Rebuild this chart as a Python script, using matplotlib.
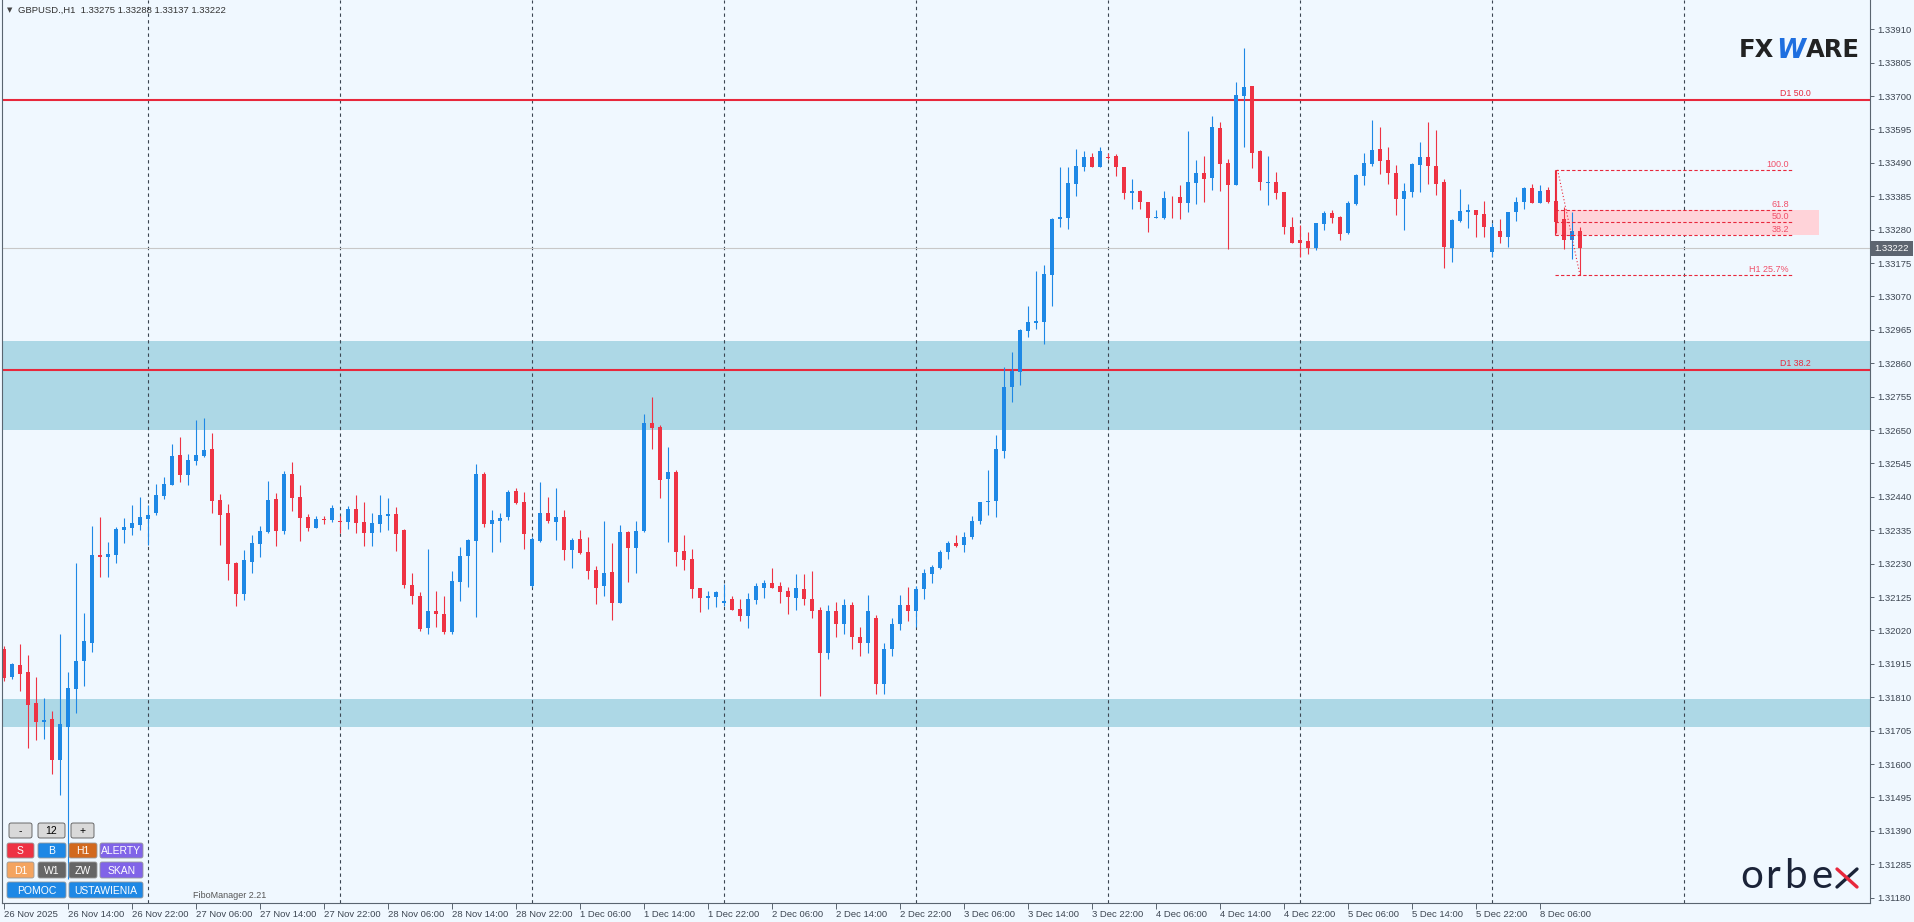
import matplotlib
matplotlib.use("Agg")
import matplotlib.pyplot as plt
from matplotlib.patches import Rectangle, FancyBboxPatch

plt.rcParams['font.family'] = ['Liberation Sans', 'DejaVu Sans']

# ---- data: GBPUSD H1 candles (26 Nov 06:00 .. 8 Dec 11:00) ----
opens = [
    1.31960, 1.31874, 1.31911, 1.31889, 1.31792, 1.31733, 1.31741, 1.31613, 1.31717, 1.31837,
    1.31925, 1.31981, 1.32257, 1.32252, 1.32258, 1.32336, 1.32343, 1.32352, 1.32370, 1.32390,
    1.32443, 1.32478, 1.32571, 1.32509, 1.32553, 1.32568, 1.32590, 1.32430, 1.32389, 1.32232,
    1.32135, 1.32236, 1.32292, 1.32329, 1.32433, 1.32332, 1.32511, 1.32439, 1.32376, 1.32343,
    1.32370, 1.32368, 1.32364, 1.32362, 1.32401, 1.32361, 1.32327, 1.32355, 1.32380, 1.32386,
    1.32335, 1.32163, 1.32128, 1.32028, 1.32081, 1.32071, 1.32016, 1.32173, 1.32254, 1.32302,
    1.32511, 1.32355, 1.32365, 1.32376, 1.32458, 1.32423, 1.32160, 1.32301, 1.32389, 1.32362,
    1.32376, 1.32274, 1.32307, 1.32266, 1.32210, 1.32160, 1.32203, 1.32107, 1.32329, 1.32280,
    1.32332, 1.32672, 1.32659, 1.32497, 1.32518, 1.32269, 1.32244, 1.32153, 1.32123, 1.32126,
    1.32107, 1.32119, 1.32088, 1.32066, 1.32116, 1.32154, 1.32169, 1.32159, 1.32144, 1.32123,
    1.32150, 1.32120, 1.32085, 1.31950, 1.32080, 1.32040, 1.32100, 1.32000, 1.31980, 1.32060,
    1.31850, 1.31960, 1.32040, 1.32100, 1.32080, 1.32150, 1.32196, 1.32215, 1.32265, 1.32296,
    1.32290, 1.32314, 1.32364, 1.32424, 1.32428, 1.32585, 1.32784, 1.32832, 1.32962, 1.32987,
    1.32990, 1.33136, 1.33312, 1.33318, 1.33424, 1.33477, 1.33508, 1.33476, 1.33509, 1.33512,
    1.33477, 1.33396, 1.33402, 1.33367, 1.33316, 1.33317, 1.33381, 1.33382, 1.33365, 1.33427,
    1.33459, 1.33441, 1.33600, 1.33490, 1.33421, 1.33701, 1.33732, 1.33527, 1.33427, 1.33430,
    1.33398, 1.33288, 1.33248, 1.33244, 1.33221, 1.33298, 1.33333, 1.33321, 1.33268, 1.33360,
    1.33450, 1.33487, 1.33534, 1.33499, 1.33459, 1.33377, 1.33399, 1.33484, 1.33509, 1.33480,
    1.33430, 1.33223, 1.33307, 1.33335, 1.33342, 1.33330, 1.33210, 1.33275, 1.33258, 1.33335,
    1.33368, 1.33410, 1.33365, 1.33405, 1.33370, 1.33314, 1.33248, 1.33275,
]
highs = [
    1.31971, 1.31918, 1.31977, 1.31942, 1.31874, 1.31807, 1.31766, 1.32008, 1.31889, 1.32232,
    1.32074, 1.32348, 1.32376, 1.32298, 1.32346, 1.32373, 1.32414, 1.32439, 1.32414, 1.32480,
    1.32502, 1.32606, 1.32628, 1.32574, 1.32681, 1.32687, 1.32640, 1.32449, 1.32417, 1.32235,
    1.32272, 1.32320, 1.32348, 1.32489, 1.32452, 1.32521, 1.32549, 1.32477, 1.32386, 1.32379,
    1.32379, 1.32414, 1.32379, 1.32411, 1.32445, 1.32423, 1.32389, 1.32445, 1.32437, 1.32408,
    1.32339, 1.32200, 1.32141, 1.32276, 1.32144, 1.32128, 1.32206, 1.32282, 1.32308, 1.32543,
    1.32518, 1.32398, 1.32389, 1.32461, 1.32467, 1.32455, 1.32314, 1.32486, 1.32439, 1.32467,
    1.32398, 1.32310, 1.32335, 1.32314, 1.32222, 1.32364, 1.32296, 1.32351, 1.32332, 1.32364,
    1.32700, 1.32754, 1.32665, 1.32596, 1.32524, 1.32320, 1.32276, 1.32153, 1.32145, 1.32145,
    1.32166, 1.32129, 1.32119, 1.32138, 1.32170, 1.32178, 1.32216, 1.32172, 1.32157, 1.32197,
    1.32198, 1.32207, 1.32095, 1.32100, 1.32110, 1.32120, 1.32110, 1.32030, 1.32130, 1.32070,
    1.31980, 1.32060, 1.32130, 1.32156, 1.32160, 1.32213, 1.32227, 1.32272, 1.32301, 1.32320,
    1.32330, 1.32380, 1.32424, 1.32525, 1.32635, 1.32847, 1.32895, 1.32969, 1.33040, 1.33150,
    1.33169, 1.33317, 1.33477, 1.33478, 1.33534, 1.33527, 1.33522, 1.33541, 1.33522, 1.33519,
    1.33477, 1.33440, 1.33405, 1.33367, 1.33342, 1.33402, 1.33387, 1.33420, 1.33590, 1.33499,
    1.33513, 1.33637, 1.33618, 1.33502, 1.33744, 1.33852, 1.33732, 1.33531, 1.33512, 1.33461,
    1.33398, 1.33321, 1.33295, 1.33273, 1.33302, 1.33338, 1.33342, 1.33324, 1.33369, 1.33455,
    1.33521, 1.33625, 1.33603, 1.33540, 1.33484, 1.33426, 1.33489, 1.33555, 1.33618, 1.33594,
    1.33438, 1.33314, 1.33408, 1.33360, 1.33342, 1.33370, 1.33302, 1.33313, 1.33337, 1.33384,
    1.33415, 1.33423, 1.33420, 1.33415, 1.33468, 1.33352, 1.33337, 1.33288,
]
lows = [
    1.31860, 1.31868, 1.31830, 1.31651, 1.31675, 1.31678, 1.31568, 1.31502, 1.31240, 1.31761,
    1.31846, 1.31953, 1.32189, 1.32189, 1.32232, 1.32295, 1.32320, 1.32335, 1.32289, 1.32384,
    1.32433, 1.32478, 1.32487, 1.32477, 1.32540, 1.32565, 1.32389, 1.32289, 1.32179, 1.32097,
    1.32116, 1.32200, 1.32252, 1.32326, 1.32286, 1.32324, 1.32396, 1.32302, 1.32333, 1.32343,
    1.32355, 1.32362, 1.32327, 1.32340, 1.32327, 1.32286, 1.32286, 1.32330, 1.32336, 1.32270,
    1.32154, 1.32104, 1.32019, 1.32009, 1.32032, 1.32009, 1.32009, 1.32113, 1.32157, 1.32063,
    1.32346, 1.32267, 1.32299, 1.32368, 1.32417, 1.32277, 1.32157, 1.32299, 1.32358, 1.32305,
    1.32242, 1.32217, 1.32261, 1.32182, 1.32104, 1.32129, 1.32053, 1.32107, 1.32173, 1.32201,
    1.32330, 1.32591, 1.32437, 1.32299, 1.32223, 1.32211, 1.32123, 1.32079, 1.32088, 1.32094,
    1.32097, 1.32085, 1.32050, 1.32028, 1.32104, 1.32123, 1.32154, 1.32107, 1.32072, 1.32085,
    1.32100, 1.32060, 1.31815, 1.31930, 1.32000, 1.32010, 1.31960, 1.31940, 1.31950, 1.31820,
    1.31820, 1.31940, 1.32020, 1.32050, 1.32030, 1.32120, 1.32170, 1.32213, 1.32243, 1.32282,
    1.32265, 1.32308, 1.32353, 1.32383, 1.32375, 1.32561, 1.32739, 1.32793, 1.32942, 1.32967,
    1.32919, 1.33040, 1.33289, 1.33283, 1.33386, 1.33464, 1.33476, 1.33476, 1.33501, 1.33450,
    1.33375, 1.33345, 1.33344, 1.33274, 1.33316, 1.33314, 1.33317, 1.33315, 1.33335, 1.33361,
    1.33367, 1.33405, 1.33402, 1.33218, 1.33421, 1.33540, 1.33475, 1.33405, 1.33358, 1.33377,
    1.33267, 1.33237, 1.33194, 1.33202, 1.33216, 1.33279, 1.33301, 1.33248, 1.33267, 1.33358,
    1.33421, 1.33480, 1.33455, 1.33423, 1.33325, 1.33279, 1.33382, 1.33399, 1.33424, 1.33390,
    1.33160, 1.33178, 1.33305, 1.33286, 1.33257, 1.33257, 1.33193, 1.33237, 1.33226, 1.33307,
    1.33345, 1.33363, 1.33363, 1.33365, 1.33270, 1.33220, 1.33189, 1.33137,
]
closes = [
    1.31871, 1.31914, 1.31884, 1.31786, 1.31733, 1.31738, 1.31613, 1.31725, 1.31839, 1.31923,
    1.31986, 1.32257, 1.32252, 1.32260, 1.32339, 1.32345, 1.32357, 1.32376, 1.32383, 1.32445,
    1.32480, 1.32568, 1.32508, 1.32555, 1.32571, 1.32587, 1.32428, 1.32384, 1.32230, 1.32135,
    1.32241, 1.32295, 1.32332, 1.32430, 1.32333, 1.32511, 1.32437, 1.32374, 1.32343, 1.32370,
    1.32367, 1.32405, 1.32361, 1.32401, 1.32358, 1.32327, 1.32357, 1.32383, 1.32386, 1.32324,
    1.32164, 1.32129, 1.32025, 1.32081, 1.32073, 1.32016, 1.32175, 1.32254, 1.32304, 1.32511,
    1.32355, 1.32367, 1.32373, 1.32455, 1.32420, 1.32324, 1.32307, 1.32389, 1.32365, 1.32376,
    1.32274, 1.32304, 1.32264, 1.32207, 1.32154, 1.32200, 1.32107, 1.32329, 1.32280, 1.32332,
    1.32672, 1.32657, 1.32494, 1.32518, 1.32267, 1.32242, 1.32151, 1.32123, 1.32129, 1.32142,
    1.32113, 1.32085, 1.32066, 1.32119, 1.32159, 1.32169, 1.32154, 1.32142, 1.32126, 1.32153,
    1.32120, 1.32080, 1.31950, 1.32080, 1.32040, 1.32100, 1.32000, 1.31980, 1.32080, 1.31850,
    1.31960, 1.32040, 1.32100, 1.32080, 1.32150, 1.32199, 1.32218, 1.32267, 1.32296, 1.32286,
    1.32314, 1.32364, 1.32424, 1.32427, 1.32591, 1.32785, 1.32836, 1.32965, 1.32990, 1.32993,
    1.33141, 1.33314, 1.33321, 1.33427, 1.33480, 1.33508, 1.33476, 1.33527, 1.33504, 1.33476,
    1.33396, 1.33402, 1.33366, 1.33318, 1.33320, 1.33380, 1.33378, 1.33365, 1.33430, 1.33459,
    1.33440, 1.33603, 1.33487, 1.33421, 1.33703, 1.33728, 1.33522, 1.33431, 1.33430, 1.33396,
    1.33287, 1.33237, 1.33239, 1.33221, 1.33301, 1.33333, 1.33318, 1.33267, 1.33363, 1.33452,
    1.33490, 1.33531, 1.33496, 1.33457, 1.33377, 1.33402, 1.33485, 1.33509, 1.33481, 1.33424,
    1.33225, 1.33311, 1.33339, 1.33342, 1.33327, 1.33287, 1.33288, 1.33257, 1.33336, 1.33368,
    1.33412, 1.33365, 1.33402, 1.33368, 1.33305, 1.33248, 1.33277, 1.33222,
]

time_labels = ['26 Nov 2025', '26 Nov 14:00', '26 Nov 22:00', '27 Nov 06:00', '27 Nov 14:00',
               '27 Nov 22:00', '28 Nov 06:00', '28 Nov 14:00', '28 Nov 22:00', '1 Dec 06:00',
               '1 Dec 14:00', '1 Dec 22:00', '2 Dec 06:00', '2 Dec 14:00', '2 Dec 22:00',
               '3 Dec 06:00', '3 Dec 14:00', '3 Dec 22:00', '4 Dec 06:00', '4 Dec 14:00',
               '4 Dec 22:00', '5 Dec 06:00', '5 Dec 14:00', '5 Dec 22:00', '8 Dec 06:00']

# support / resistance zones and daily fibo levels
zones = [(1.32649, 1.32930), (1.31717, 1.31805)]
d1_levels = [1.33688, 1.32838]
d1_names = ['D1 50.0', 'D1 38.2']

# H1 fibo swing (bar 194 high -> bar 197 low)
fib_high = 1.33468
fib_low = 1.33137
fib_ratios = [1.0, 0.618, 0.5, 0.382, 0.0]
fib_names = ['100.0', '61.8', '50.0', '38.2', 'H1 25.7%']

last_price = closes[-1]

BULL = '#1E88E5'
BEAR = '#EE3344'
BG = '#F0F8FF'
TXT = '#3d4652'

W, H = 1915, 922
fig = plt.figure(figsize=(W / 100, H / 100), dpi=100, facecolor=BG)
ax = fig.add_axes([2 / W, 19 / H, 1868 / W, 903 / H], facecolor=BG)

n = len(opens)
xs = list(range(n))

# zones, grid, levels
for lo, hi in zones:
    ax.axhspan(lo, hi, color='#ADD8E6', lw=0, zorder=0.5)
for g in range(18, 234, 24):
    ax.axvline(g, color='#3b4652', lw=0.8, ls=(0, (3, 3)), zorder=1)
for lvl, name in zip(d1_levels, d1_names):
    ax.axhline(lvl, color='#E8283C', lw=1.5, zorder=1.5)
    ax.text(225.9, lvl + 0.00007, name, ha='right', va='bottom', fontsize=6.3,
            color='#E8283C', zorder=3)
ax.axhline(last_price, color='#c8c8c8', lw=0.8, zorder=1.2)

# candles
for i in xs:
    o, h, l, c = opens[i], highs[i], lows[i], closes[i]
    col = BULL if c >= o else BEAR
    ax.vlines(i, l, h, color=col, lw=0.8, zorder=2)
    body = max(abs(c - o), 0.00003)
    ax.bar(i, body, bottom=min(o, c), width=0.62, color=col, lw=0, zorder=2.5)

# fibo tool
fx0, fx1, frect = 193.9, 223.5, 226.9
span = fib_high - fib_low
fib_prices = [fib_low + r * span for r in fib_ratios]
ax.add_patch(Rectangle((fx0, fib_prices[3]), frect - fx0, fib_prices[1] - fib_prices[3],
                       facecolor='#FFD3D9', edgecolor='none', zorder=1.8))
for p, name in zip(fib_prices, fib_names):
    ax.hlines(p, fx0, fx1, color='#E8283C', lw=0.8, ls=(0, (3, 2)), zorder=3)
    ax.text(fx1 - 0.4, p + 0.00004, name, ha='right', va='bottom', fontsize=6.5,
            color='#F0506A', zorder=3)
ax.vlines(fx0, fib_prices[3], fib_high, color='#E8283C', lw=0.8, zorder=3)
ax.plot([fx0 + 0.3, 197], [fib_high, fib_low], color='#E8283C', lw=0.8,
        ls=(0, (1, 2)), zorder=3)

ax.set_xlim(-0.25, 233.25)
ax.set_ylim(1.31163, 1.34002)

# axes styling
ax.spines['top'].set_visible(False)
for s in ['left', 'right', 'bottom']:
    ax.spines[s].set_color('#5a6570')
    ax.spines[s].set_linewidth(0.8)

yt = [1.31180 + k * 0.00105 for k in range(27)]
ax.yaxis.tick_right()
ax.set_yticks(yt)
ax.set_yticklabels(['%.5f' % v for v in yt])
ax.tick_params(axis='y', direction='out', length=3, width=0.7, pad=2,
               labelsize=6.8, colors='#5a6570', labelcolor=TXT)
ax.set_xticks(list(range(0, 193, 8)))
ax.set_xticklabels(time_labels)
ax.tick_params(axis='x', direction='out', length=4, width=0.7, pad=1,
               labelsize=6.8, colors='#5a6570', labelcolor=TXT)
for t in ax.get_xticklabels():
    t.set_ha('left')

# overlay in pixel coordinates
ov = fig.add_axes([0, 0, 1, 1])
ov.set_xlim(0, W)
ov.set_ylim(H, 0)
ov.axis('off')
ov.patch.set_visible(False)

# current price tag
ov.add_patch(Rectangle((1871, 241), 42, 15, facecolor='#5d6570', edgecolor='none'))
ov.text(1892, 248.5, '%.5f' % last_price, ha='center', va='center', fontsize=6.8,
        color='white')

# header
ov.text(7, 10, '\u25bc', ha='left', va='center', fontsize=5, color='#444',
        family=['DejaVu Sans'])
ov.text(18, 10, 'GBPUSD.,H1  1.33275 1.33288 1.33137 1.33222', ha='left',
        va='center', fontsize=6.8, color='#333')

# FXWARE logo
ov.text(1739, 50, 'FX', ha='left', va='center', fontsize=17.5, fontweight='bold',
        color='#222222', family=['DejaVu Sans'])
ov.text(1776, 51, 'W', ha='left', va='center', fontsize=19, fontweight='bold',
        style='italic', color='#1E6FE0', family=['DejaVu Sans'])
ov.text(1806, 50, 'ARE', ha='left', va='center', fontsize=17.5, fontweight='bold',
        color='#222222', family=['DejaVu Sans'])

# orbex logo
for ch, cx in zip('orbe', [1751.5, 1773, 1795.5, 1822]):
    ov.text(cx, 876, ch, ha='center', va='center', fontsize=29, color='#1b2338',
            family=['Lato', 'DejaVu Sans'])
ov.plot([1837, 1857], [887, 869], color='#1b2338', lw=2.4, solid_capstyle='round')
ov.plot([1837, 1857], [869, 887], color='#E8283C', lw=2.4, solid_capstyle='round')

# button panel
buttons = [
    ('-', 9, 823, 32, 838, '#d9d9d9', 'black'),
    ('12', 38, 823, 65, 838, '#d9d9d9', 'black'),
    ('+', 71, 823, 94, 838, '#d9d9d9', 'black'),
    ('S', 7, 843, 34, 858, '#ee3344', 'white'),
    ('B', 38, 843, 66, 858, '#1e88e5', 'white'),
    ('H1', 69, 843, 97, 858, '#d2691e', 'white'),
    ('ALERTY', 100, 843, 143, 858, '#8064e8', 'white'),
    ('D1', 7, 862, 34, 878, '#f4a460', 'white'),
    ('W1', 38, 862, 66, 878, '#666666', 'white'),
    ('ZW', 69, 862, 97, 878, '#666666', 'white'),
    ('SKAN', 100, 862, 143, 878, '#8064e8', 'white'),
    ('POMOC', 7, 882, 66, 898, '#1e88e5', 'white'),
    ('USTAWIENIA', 69, 882, 143, 898, '#1e88e5', 'white'),
]
for lab, x0, y0, x1, y1, fc, tc in buttons:
    ec = '#555555' if fc == '#d9d9d9' else '#9a9a9a'
    ov.add_patch(FancyBboxPatch((x0, y0), x1 - x0, y1 - y0,
                                boxstyle='round,pad=0,rounding_size=2',
                                facecolor=fc, edgecolor=ec, lw=0.6))
    ov.text((x0 + x1) / 2, (y0 + y1) / 2 + 0.5, lab, ha='center', va='center',
            fontsize=7.5, color=tc)

ov.text(193, 895, 'FiboManager 2.21', ha='left', va='center', fontsize=6.5,
        color='#555555')

fig.savefig('out.png', dpi=100, facecolor=BG)
